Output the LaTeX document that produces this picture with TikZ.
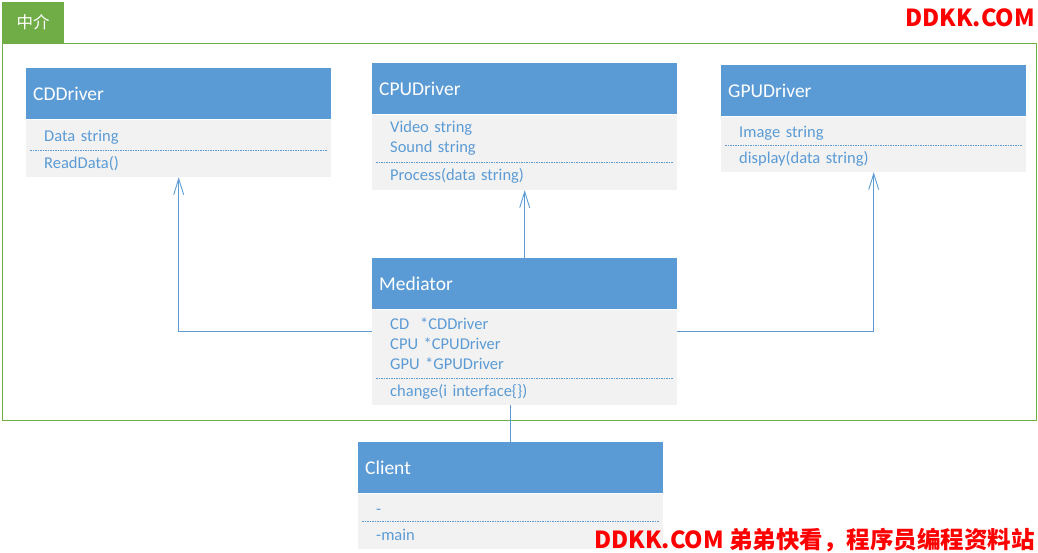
\documentclass[tikz,border=0pt]{standalone}
\usepackage{fontspec}
\setmainfont{Carlito}
\newfontfamily\cjk{Noto Sans CJK SC}
\usepackage{tikz}
\usetikzlibrary{arrows.meta,positioning}
\definecolor{umlblue}{HTML}{5B9BD5}
\definecolor{umlgray}{HTML}{F2F2F2}
\definecolor{framegreen}{HTML}{70AD47}
\definecolor{markred}{HTML}{FF0000}
\tikzset
{
    headnode/.style = {rectangle, fill=umlblue, text=white, anchor=north west, align=left, text width=291pt, inner xsep=7pt, minimum height=51pt, font=\fontsize{19.5}{23}\selectfont},
    attrnode/.style = {rectangle, fill=umlgray, text=umlblue, align=left, text width=269pt, inner xsep=18pt, inner ysep=0pt, font=\fontsize{16.5}{20}\selectfont},
    oneline/.style  = {attrnode, text height=16pt, text depth=2pt},
    methnode/.style = {attrnode, minimum height=27pt},
    divider/.style  = {umlblue, line width=0.6pt, dash pattern=on 1.5pt off 1pt},
    link/.style     = {umlblue, line width=0.9pt},
    uses/.style     = {link, -{Straight Barb[length=16pt,width=10pt]}},
    watermark/.style = {text=markred, font=\cjk\bfseries\fontsize{23.5}{26}\selectfont, inner sep=0pt}
}

\begin{document}
\begin{tikzpicture}[x=1pt, y=-1pt]
\useasboundingbox (0,0) rectangle (1038,552);
% mediator frame
\draw[framegreen, line width=0.9pt] (2,43) rectangle (1036,420);
\node[fill=framegreen, text=white, anchor=south west, minimum width=62pt, minimum height=41pt, font=\cjk\fontsize{16.5}{18}\selectfont] (tab) at (2,43) {中介};
% drivers
\node[headnode] (cdhead) at (26,68) {CDDriver};
\node[oneline, minimum height=30pt, below=0pt of cdhead] (cdattr) {Data string};
\node[methnode, below=0pt of cdattr] (cdmeth) {ReadData()};
\draw[divider] ([xshift=4pt]cdattr.south west) -- ([xshift=-4pt]cdattr.south east);

\node[headnode] (cpuhead) at (372,63) {CPUDriver};
\node[attrnode, minimum height=47pt, below=0pt of cpuhead] (cpuattr) {Video string\\Sound string};
\node[methnode, minimum height=28pt, below=0pt of cpuattr] (cpumeth) {Process(data string)};
\draw[divider] ([xshift=4pt]cpuattr.south west) -- ([xshift=-4pt]cpuattr.south east);

\node[headnode] (gpuhead) at (721,65) {GPUDriver};
\node[oneline, minimum height=28pt, below=0pt of gpuhead] (gpuattr) {Image string};
\node[methnode, below=0pt of gpuattr] (gpumeth) {display(data string)};
\draw[divider] ([xshift=4pt]gpuattr.south west) -- ([xshift=-4pt]gpuattr.south east);

% mediator
\node[headnode] (medhead) at (372,258) {Mediator};
\node[attrnode, minimum height=68pt, below=0pt of medhead] (medattr) {CD\ \ *CDDriver\\CPU *CPUDriver\\GPU *GPUDriver};
\node[methnode, below=0pt of medattr] (medmeth) {change(i interface\{\})};
\draw[divider] ([xshift=4pt]medattr.south west) -- ([xshift=-4pt]medattr.south east);

% client
\node[headnode] (clienthead) at (358,442) {Client};
\node[oneline, minimum height=27pt, below=0pt of clienthead] (clientattr) {-};
\node[methnode, minimum height=28pt, below=0pt of clientattr] (clientmeth) {-main};
\draw[divider] ([xshift=4pt]clientattr.south west) -- ([xshift=-4pt]clientattr.south east);

% connectors
\draw[uses] ([yshift=-22pt]medattr.north west) -| (cdmeth.south);
\draw[uses] (medhead.north) -- (cpumeth.south);
\draw[uses] ([yshift=-22pt]medattr.north east) -| (gpumeth.south);
\draw[link] (clienthead.north) -- (clienthead.north |- medmeth.south);

% marks
\node[watermark, anchor=east] (topmark) at (1035,18) {DDKK.COM};
\node[watermark, anchor=east] (bottommark) at (1035,540) {DDKK.COM 弟弟快看，程序员编程资料站};
\end{tikzpicture}
\end{document}
